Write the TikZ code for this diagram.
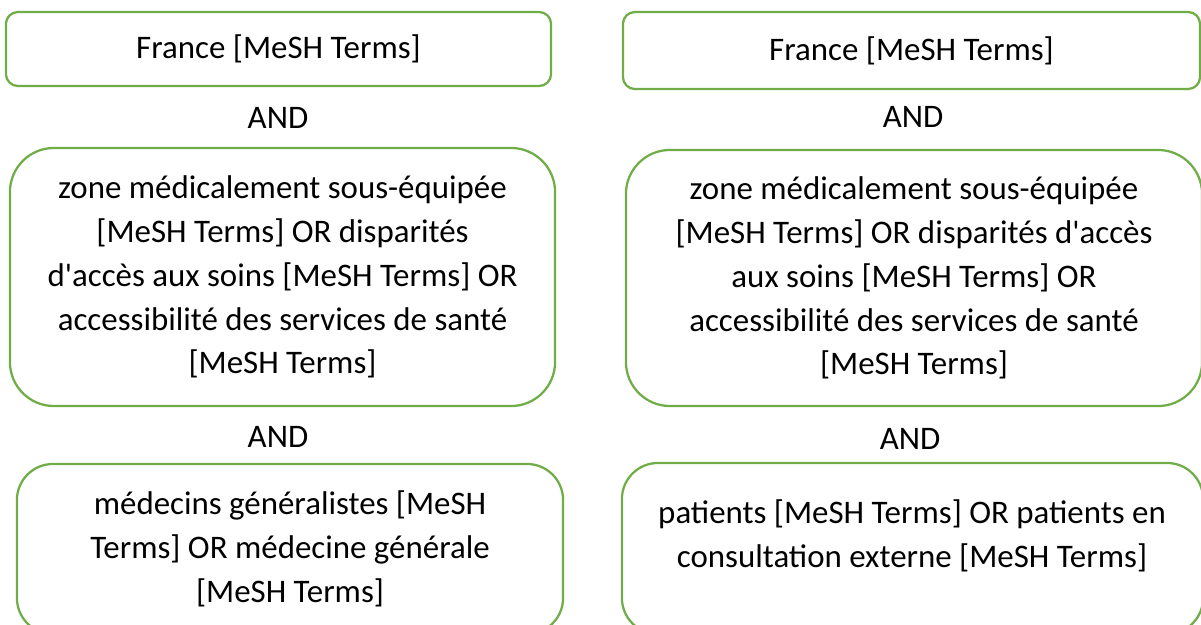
\documentclass[tikz,border=0pt]{standalone}
\usepackage{fontspec}
\setmainfont{Carlito}[Ligatures=TeXOff]
\definecolor{boxgreen}{HTML}{70AD47}
\tikzset{
  termbox/.style={draw=boxgreen, line width=1.6pt, align=center, inner sep=0pt},
  andlabel/.style={inner sep=0pt}
}
\begin{document}
\begin{tikzpicture}[x=0.025cm,y=-0.025cm,
    every node/.style={font=\fontsize{23.4}{31.2}\selectfont}]
  \useasboundingbox (0,0) rectangle (1201,624);
  % left search
  \node[termbox, rounded corners=0.3cm, minimum width=13.625cm, minimum height=1.85cm]
    (franceL) at (278.5,49) {France [MeSH Terms]};
  \node[andlabel] (andL1) at (278,118) {AND};
  \node[termbox, rounded corners=1.1cm, minimum width=13.625cm, minimum height=6.45cm]
    (zoneL) at (282.5,277) {zone médicalement sous-équipée\\ {[MeSH Terms]} OR disparités\\
    d'accès aux soins [MeSH Terms] OR\\ accessibilité des services de santé\\ {[MeSH Terms]}};
  \node[andlabel] (andL2) at (278,437) {AND};
  \node[termbox, rounded corners=0.9cm, minimum width=13.65cm, minimum height=4.25cm]
    (medL) at (290,549) {médecins généralistes [MeSH\\ Terms] OR médecine générale\\ {[MeSH Terms]}};
  % right search
  \node[termbox, rounded corners=0.3cm, minimum width=14.425cm, minimum height=1.925cm]
    (franceR) at (911.5,50.5) {France [MeSH Terms]};
  \node[andlabel] (andR1) at (913,117) {AND};
  \node[termbox, rounded corners=1.1cm, minimum width=14.4cm, minimum height=6.4cm]
    (zoneR) at (914,278) {zone médicalement sous-équipée\\ {[MeSH Terms]} OR disparités d'accès\\
    aux soins [MeSH Terms] OR\\ accessibilité des services de santé\\ {[MeSH Terms]}};
  \node[andlabel] (andR2) at (910,439) {AND};
  \node[termbox, rounded corners=0.9cm, minimum width=14.525cm, minimum height=4.275cm]
    (patR) at (912.5,548.5) {};
  \node[align=center] (patRtext) at (912,536)
    {patients [MeSH Terms] OR patients en\\ consultation externe [MeSH Terms]};
\end{tikzpicture}
\end{document}
